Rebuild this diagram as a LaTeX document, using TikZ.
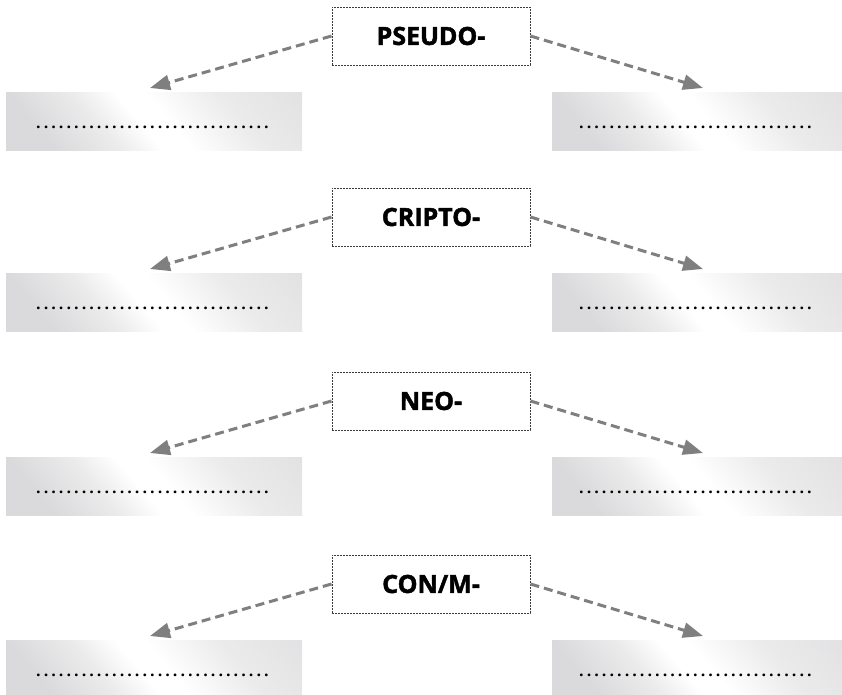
\documentclass[tikz,border=0pt]{standalone}
\usepackage{fontspec}
\setmainfont{Open Sans}
\usetikzlibrary{arrows.meta}
\definecolor{arrowgray}{HTML}{7F7F7F}
\definecolor{boxedge}{HTML}{DADADC}
\definecolor{boxmid}{HTML}{EBEBEC}
\definecolor{framegray}{HTML}{3A3A3A}
\pgfdeclarehorizontalshading{sheen}{100bp}{color(0bp)=(boxedge); color(25bp)=(boxedge); color(38bp)=(boxmid); color(47bp)=(white); color(53bp)=(white); color(68bp)=(boxmid); color(100bp)=(boxedge)}
\newcommand\dotrow{\foreach\i in {1,...,31}{\makebox[7.6pt][l]{.}}}
\newcommand\prefixrow[3]{%
  \node[prefixbox] (#3p) at (431,36+#1) {#2};
  \node[answerbox, minimum width=296pt] (#3l) at (154,121+#1) {\dotrow};
  \node[answerbox, minimum width=290pt] (#3r) at (697,121+#1) {\dotrow};
  \coordinate (#3a) at (150,88+#1);
  \coordinate (#3b) at (703,88+#1);
  \draw[linkarrow] (#3p.west) -- (#3a);
  \draw[linkarrow] (#3p.east) -- (#3b);
}
\begin{document}
\begin{tikzpicture}[x=1pt,y=-1pt,
  prefixbox/.style={draw=framegray, dash pattern=on 2pt off 1pt, line width=1pt,
    fill=white, minimum width=198pt, minimum height=58pt, inner sep=0pt,
    font=\fontsize{25}{25}\selectfont\bfseries\addfontfeature{FakeBold=1.8}},
  answerbox/.style={minimum height=58pt, inner sep=0pt,
    shade, shading=sheen, shading angle=40,
    text height=17pt, text depth=2pt,
    font=\fontsize{16}{16}\selectfont\bfseries},
  linkarrow/.style={draw=arrowgray, line width=3pt, dash pattern=on 9pt off 5pt,
    -{Triangle[length=20pt,width=15pt]}}]
\useasboundingbox (0,0) rectangle (842,694);
\prefixrow{0}{PSEUDO-}{a}
\prefixrow{181}{CRIPTO-}{b}
\prefixrow{365}{NEO-}{c}
\prefixrow{548}{CON/M-}{d}
\end{tikzpicture}
\end{document}
